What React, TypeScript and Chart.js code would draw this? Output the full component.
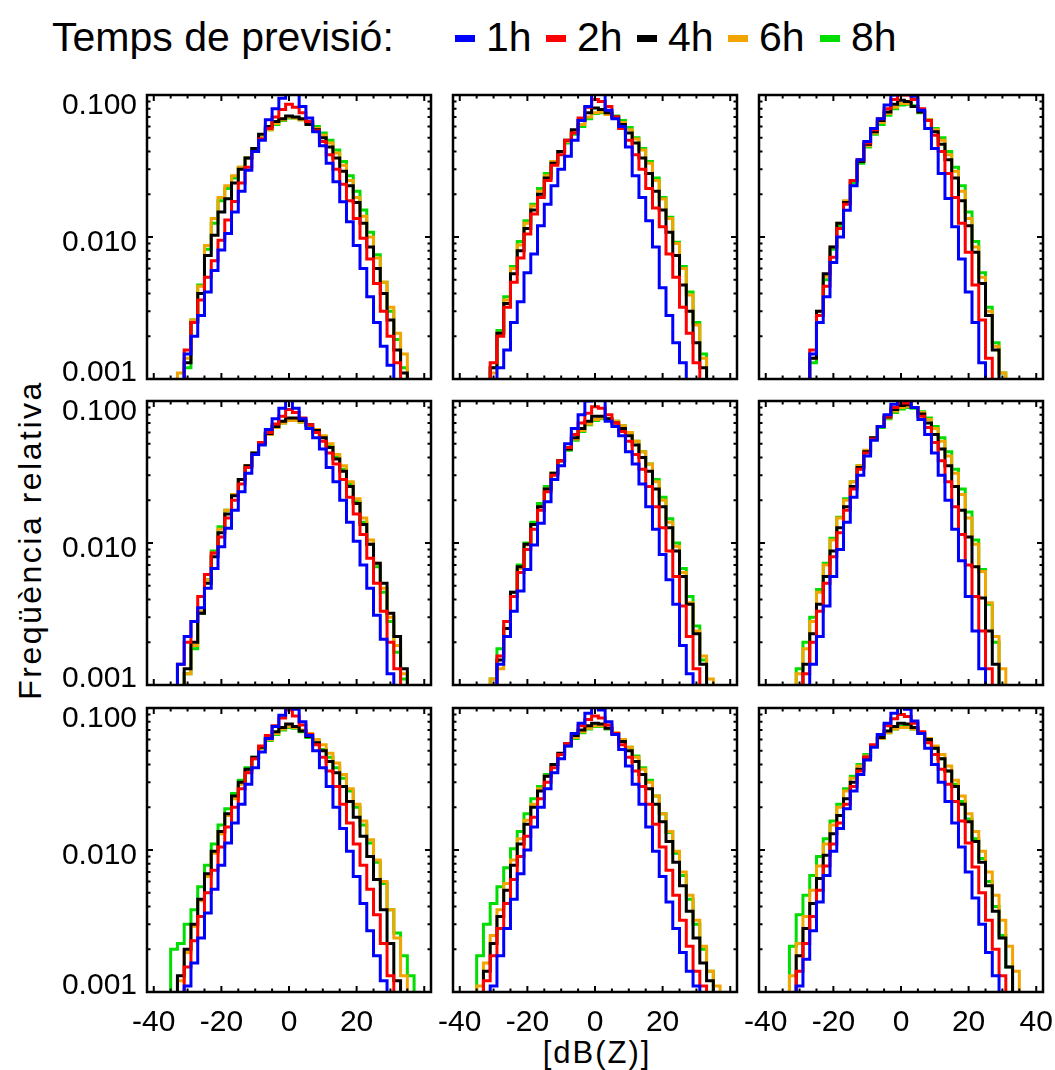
import React, { useEffect, useRef } from 'react';
import { Chart, registerables } from 'chart.js';

Chart.register(...registerables);

// ---------- axes ----------
const BIN_STEP = 2; // histogram bin width in dB(Z)
const X_MIN = -42;
const X_MAX = 42;
const Y_MIN = 0.001;
const Y_MAX = 0.1;
const EMPTY_BIN = 0.0001; // empty bin: below the axis floor
const X_TICKS = [-40, -35, -30, -25, -20, -15, -10, -5, 0, 5, 10, 15, 20, 25, 30, 35, 40];
const X_MAJOR_TICKS = [-40, -20, 0, 20, 40];
const Y_TICKS = [0.002, 0.003, 0.004, 0.005, 0.006, 0.007, 0.008, 0.009, 0.01, 0.02, 0.03, 0.04, 0.05, 0.06, 0.07, 0.08, 0.09];
const Y_MAJOR_TICKS = [0.01];
const Y_LABEL_VALUES = [0.1, 0.01, 0.001];
const Y_LABELS = ['0.100', '0.010', '0.001'];
const X_LABEL_VALUES = [-40, -20, 0, 20, 40];
const X_LABELS = ['-40', '-20', '0', '20', '40'];

// ---------- series ----------
const SERIES_NAMES = ['1h', '2h', '4h', '6h', '8h'];
const SERIES_COLORS = ['#0000ff', '#ff0000', '#000000', '#f2a500', '#00dd00'];

// Each panel: first bin centre of every series (1h,2h,4h,6h,8h) and the relative frequencies per 2 dB bin
const P1_START = [-30, -30, -30, -32, -30];
const P1_1H = [0.0015, 0.002, 0.0028, 0.0041, 0.0058, 0.0081, 0.0106, 0.015, 0.021, 0.0295, 0.04, 0.048, 0.067, 0.08, 0.095, 0.11, 0.105, 0.083, 0.069, 0.055, 0.044, 0.033, 0.0245, 0.0177, 0.0128, 0.0087, 0.006, 0.0038, 0.0025, 0.0017, 0.00125];
const P1_2H = [0.0016, 0.0025, 0.0036, 0.0052, 0.0068, 0.0095, 0.0132, 0.0178, 0.024, 0.031, 0.04, 0.049, 0.058, 0.07, 0.079, 0.086, 0.082, 0.075, 0.065, 0.056, 0.047, 0.038, 0.03, 0.0235, 0.018, 0.0135, 0.0098, 0.007, 0.0047, 0.003, 0.002, 0.0013];
const P1_4H = [0.0013, 0.0025, 0.004, 0.0074, 0.0103, 0.015, 0.0186, 0.024, 0.03, 0.036, 0.042, 0.053, 0.06, 0.065, 0.068, 0.071, 0.07, 0.068, 0.062, 0.057, 0.05, 0.043, 0.036, 0.029, 0.023, 0.0175, 0.0125, 0.0085, 0.006, 0.004, 0.0026, 0.0016, 0.0011];
const P1_6H = [0.0011, 0.0014, 0.0026, 0.0045, 0.0087, 0.0135, 0.019, 0.023, 0.027, 0.031, 0.036, 0.041, 0.05, 0.057, 0.063, 0.067, 0.07, 0.069, 0.067, 0.064, 0.058, 0.052, 0.046, 0.039, 0.032, 0.025, 0.019, 0.014, 0.01, 0.0071, 0.0048, 0.0032, 0.0021, 0.0015];
const P1_8H = [0.0012, 0.0026, 0.0046, 0.0082, 0.0125, 0.018, 0.022, 0.026, 0.031, 0.036, 0.042, 0.05, 0.057, 0.062, 0.066, 0.069, 0.069, 0.067, 0.065, 0.06, 0.054, 0.048, 0.041, 0.034, 0.027, 0.021, 0.0155, 0.0108, 0.0075, 0.0048, 0.003, 0.0019, 0.0012];

const P2_START = [-28, -30, -30, -30, -30];
const P2_1H = [0.0012, 0.0016, 0.0025, 0.0035, 0.0056, 0.0076, 0.012, 0.017, 0.023, 0.03, 0.037, 0.048, 0.066, 0.083, 0.11, 0.105, 0.078, 0.068, 0.06, 0.043, 0.027, 0.019, 0.013, 0.0085, 0.0044, 0.0028, 0.0018, 0.0013];
const P2_2H = [0.0013, 0.002, 0.0032, 0.0048, 0.0071, 0.0105, 0.0145, 0.019, 0.025, 0.032, 0.038, 0.048, 0.054, 0.069, 0.082, 0.093, 0.09, 0.083, 0.07, 0.058, 0.048, 0.038, 0.03, 0.022, 0.016, 0.0118, 0.0076, 0.0052, 0.0032, 0.0021, 0.0013];
const P2_4H = [0.0012, 0.0021, 0.0034, 0.0055, 0.008, 0.0115, 0.0155, 0.02, 0.026, 0.033, 0.04, 0.048, 0.057, 0.066, 0.075, 0.081, 0.079, 0.075, 0.07, 0.062, 0.054, 0.046, 0.036, 0.028, 0.021, 0.0155, 0.0108, 0.0074, 0.0046, 0.003, 0.0018, 0.0012];
const P2_6H = [0.0011, 0.0021, 0.0036, 0.006, 0.0088, 0.0125, 0.0165, 0.021, 0.027, 0.034, 0.04, 0.047, 0.055, 0.062, 0.07, 0.075, 0.076, 0.073, 0.07, 0.064, 0.057, 0.049, 0.041, 0.033, 0.025, 0.0185, 0.0135, 0.009, 0.006, 0.0039, 0.0024, 0.0014];
const P2_8H = [0.0012, 0.0022, 0.0038, 0.0062, 0.0093, 0.013, 0.017, 0.022, 0.028, 0.034, 0.04, 0.046, 0.053, 0.06, 0.068, 0.074, 0.075, 0.074, 0.071, 0.066, 0.059, 0.05, 0.042, 0.034, 0.026, 0.019, 0.0138, 0.0092, 0.0062, 0.0041, 0.0025, 0.0015];

const P3_START = [-26, -26, -26, -26, -26];
const P3_1H = [0.0015, 0.0025, 0.0038, 0.0066, 0.01, 0.0154, 0.023, 0.035, 0.047, 0.058, 0.068, 0.085, 0.1, 0.108, 0.107, 0.098, 0.078, 0.058, 0.042, 0.028, 0.0187, 0.0118, 0.007, 0.0041, 0.0025, 0.0013];
const P3_2H = [0.0016, 0.0028, 0.0045, 0.0072, 0.0115, 0.017, 0.025, 0.035, 0.046, 0.057, 0.068, 0.08, 0.093, 0.1, 0.1, 0.093, 0.08, 0.066, 0.052, 0.04, 0.028, 0.019, 0.0125, 0.0078, 0.0046, 0.0026, 0.0014];
const P3_4H = [0.0014, 0.003, 0.0055, 0.0085, 0.0125, 0.0175, 0.025, 0.034, 0.045, 0.055, 0.066, 0.076, 0.086, 0.092, 0.09, 0.083, 0.076, 0.066, 0.055, 0.045, 0.035, 0.026, 0.018, 0.012, 0.0078, 0.0047, 0.0028, 0.0016];
const P3_6H = [0.0014, 0.003, 0.0053, 0.0085, 0.0125, 0.018, 0.025, 0.034, 0.044, 0.054, 0.064, 0.074, 0.082, 0.087, 0.087, 0.083, 0.076, 0.067, 0.057, 0.048, 0.038, 0.029, 0.021, 0.0135, 0.0085, 0.0052, 0.003, 0.0017, 0.0011];
const P3_8H = [0.0013, 0.0028, 0.005, 0.0082, 0.012, 0.0175, 0.024, 0.033, 0.043, 0.053, 0.062, 0.072, 0.08, 0.085, 0.086, 0.084, 0.075, 0.067, 0.058, 0.05, 0.04, 0.031, 0.023, 0.015, 0.0093, 0.0056, 0.0032, 0.0018, 0.0011];

const P4_START = [-32, -32, -30, -30, -30];
const P4_1H = [0.0014, 0.0022, 0.0028, 0.0035, 0.0048, 0.0066, 0.0094, 0.0127, 0.017, 0.023, 0.031, 0.042, 0.049, 0.063, 0.075, 0.089, 0.105, 0.089, 0.075, 0.064, 0.055, 0.046, 0.034, 0.027, 0.02, 0.014, 0.0103, 0.007, 0.0048, 0.0031, 0.0021, 0.0012];
const P4_2H = [0.0014, 0.002, 0.0028, 0.0042, 0.006, 0.0085, 0.011, 0.015, 0.02, 0.026, 0.034, 0.042, 0.051, 0.06, 0.069, 0.078, 0.087, 0.083, 0.076, 0.068, 0.06, 0.052, 0.043, 0.036, 0.028, 0.021, 0.016, 0.0115, 0.0078, 0.0052, 0.0033, 0.002, 0.0013];
const P4_4H = [0.0013, 0.002, 0.0032, 0.0052, 0.008, 0.0118, 0.016, 0.0215, 0.028, 0.035, 0.043, 0.051, 0.059, 0.066, 0.072, 0.076, 0.076, 0.073, 0.068, 0.062, 0.055, 0.047, 0.039, 0.032, 0.025, 0.019, 0.0135, 0.0098, 0.0072, 0.0052, 0.0032, 0.0022, 0.0013];
const P4_6H = [0.0012, 0.0019, 0.0033, 0.0055, 0.0085, 0.0125, 0.017, 0.022, 0.028, 0.035, 0.043, 0.05, 0.058, 0.065, 0.07, 0.073, 0.073, 0.071, 0.068, 0.063, 0.057, 0.05, 0.042, 0.035, 0.027, 0.0205, 0.015, 0.0105, 0.0072, 0.0048, 0.003, 0.0019, 0.0012];
const P4_8H = [0.0012, 0.0018, 0.0032, 0.0055, 0.0088, 0.013, 0.017, 0.022, 0.028, 0.035, 0.042, 0.05, 0.058, 0.065, 0.07, 0.074, 0.074, 0.071, 0.067, 0.062, 0.056, 0.048, 0.04, 0.033, 0.026, 0.0195, 0.014, 0.0098, 0.0068, 0.0045, 0.0028, 0.0017, 0.0011];

const P5_START = [-28, -28, -28, -30, -30];
const P5_1H = [0.0014, 0.0022, 0.0033, 0.0046, 0.0065, 0.0097, 0.0138, 0.0195, 0.028, 0.035, 0.05, 0.064, 0.08, 0.1, 0.11, 0.105, 0.072, 0.066, 0.057, 0.044, 0.036, 0.026, 0.018, 0.0125, 0.0083, 0.0055, 0.0037, 0.0019, 0.0012];
const P5_2H = [0.0016, 0.0028, 0.0042, 0.0062, 0.009, 0.0125, 0.017, 0.023, 0.03, 0.038, 0.047, 0.058, 0.07, 0.082, 0.091, 0.089, 0.08, 0.07, 0.061, 0.052, 0.042, 0.033, 0.025, 0.018, 0.0128, 0.0088, 0.0058, 0.0036, 0.0022, 0.0013];
const P5_4H = [0.0015, 0.0025, 0.0045, 0.0068, 0.0098, 0.0135, 0.018, 0.024, 0.031, 0.038, 0.046, 0.055, 0.064, 0.072, 0.078, 0.078, 0.075, 0.07, 0.064, 0.057, 0.049, 0.04, 0.032, 0.024, 0.018, 0.0128, 0.0088, 0.0058, 0.0037, 0.0023, 0.0014];
const P5_6H = [0.0011, 0.0013, 0.0025, 0.0042, 0.0066, 0.0097, 0.0135, 0.018, 0.024, 0.031, 0.038, 0.046, 0.054, 0.062, 0.069, 0.074, 0.076, 0.075, 0.072, 0.067, 0.06, 0.052, 0.044, 0.036, 0.027, 0.02, 0.014, 0.0095, 0.0062, 0.0038, 0.0024, 0.0016, 0.0011];
const P5_8H = [0.0011, 0.0018, 0.0028, 0.0045, 0.007, 0.01, 0.014, 0.019, 0.025, 0.031, 0.038, 0.045, 0.053, 0.061, 0.068, 0.073, 0.075, 0.075, 0.072, 0.067, 0.06, 0.052, 0.044, 0.036, 0.028, 0.021, 0.0148, 0.01, 0.0066, 0.0042, 0.0026, 0.0015];

const P6_START = [-26, -28, -28, -30, -30];
const P6_1H = [0.0014, 0.0022, 0.0036, 0.0058, 0.009, 0.014, 0.021, 0.03, 0.041, 0.053, 0.066, 0.08, 0.095, 0.105, 0.104, 0.09, 0.074, 0.058, 0.043, 0.03, 0.02, 0.0125, 0.0075, 0.0042, 0.0024, 0.0013];
const P6_2H = [0.0012, 0.002, 0.0033, 0.0052, 0.008, 0.0118, 0.017, 0.024, 0.033, 0.043, 0.054, 0.066, 0.078, 0.09, 0.097, 0.097, 0.09, 0.078, 0.065, 0.051, 0.038, 0.027, 0.018, 0.0115, 0.007, 0.0042, 0.0024, 0.0013];
const P6_4H = [0.0014, 0.0023, 0.0037, 0.0058, 0.0088, 0.0128, 0.018, 0.025, 0.034, 0.044, 0.055, 0.066, 0.077, 0.087, 0.093, 0.094, 0.09, 0.081, 0.07, 0.058, 0.046, 0.035, 0.025, 0.017, 0.011, 0.0068, 0.0041, 0.0024, 0.0014];
const P6_6H = [0.0012, 0.0018, 0.0028, 0.0045, 0.007, 0.0105, 0.015, 0.02, 0.027, 0.035, 0.045, 0.055, 0.066, 0.076, 0.085, 0.09, 0.092, 0.09, 0.083, 0.074, 0.064, 0.052, 0.041, 0.031, 0.022, 0.015, 0.0098, 0.0063, 0.0038, 0.0022, 0.0013];
const P6_8H = [0.0013, 0.002, 0.003, 0.0047, 0.0072, 0.0108, 0.0152, 0.0205, 0.027, 0.035, 0.044, 0.054, 0.065, 0.075, 0.083, 0.088, 0.09, 0.089, 0.084, 0.076, 0.066, 0.055, 0.044, 0.033, 0.024, 0.0165, 0.0105, 0.0065, 0.0037, 0.002];

const P7_START = [-30, -30, -32, -32, -34];
const P7_1H = [0.0011, 0.0016, 0.0024, 0.0036, 0.0053, 0.0078, 0.0112, 0.0155, 0.021, 0.029, 0.038, 0.049, 0.061, 0.074, 0.089, 0.108, 0.098, 0.08, 0.064, 0.05, 0.038, 0.028, 0.02, 0.0142, 0.0098, 0.0065, 0.0042, 0.0027, 0.0018, 0.0012];
const P7_2H = [0.0015, 0.0023, 0.0034, 0.005, 0.0072, 0.0105, 0.0145, 0.02, 0.027, 0.035, 0.044, 0.054, 0.064, 0.075, 0.085, 0.097, 0.088, 0.076, 0.065, 0.055, 0.045, 0.036, 0.028, 0.021, 0.0155, 0.011, 0.0078, 0.0053, 0.0035, 0.0022, 0.0013];
const P7_4H = [0.0013, 0.002, 0.003, 0.0045, 0.0068, 0.0098, 0.0135, 0.018, 0.024, 0.03, 0.037, 0.045, 0.053, 0.061, 0.068, 0.073, 0.077, 0.074, 0.069, 0.063, 0.057, 0.05, 0.042, 0.035, 0.028, 0.022, 0.017, 0.0125, 0.009, 0.0062, 0.0038, 0.0022, 0.0012];
const P7_6H = [0.0012, 0.0019, 0.0029, 0.0044, 0.0065, 0.0095, 0.013, 0.0175, 0.023, 0.029, 0.036, 0.044, 0.052, 0.06, 0.066, 0.071, 0.074, 0.073, 0.07, 0.066, 0.06, 0.055, 0.048, 0.041, 0.034, 0.027, 0.021, 0.016, 0.0118, 0.0085, 0.006, 0.0038, 0.0024, 0.0013];
const P7_8H = [0.002, 0.0022, 0.003, 0.0038, 0.0055, 0.0078, 0.011, 0.015, 0.0195, 0.025, 0.031, 0.038, 0.045, 0.052, 0.059, 0.065, 0.07, 0.073, 0.072, 0.068, 0.062, 0.057, 0.051, 0.045, 0.038, 0.032, 0.026, 0.02, 0.015, 0.0112, 0.0082, 0.0058, 0.0038, 0.0026, 0.0018, 0.0013];

const P8_START = [-30, -32, -32, -34, -34];
const P8_1H = [0.0011, 0.0018, 0.0028, 0.0045, 0.0068, 0.01, 0.0145, 0.02, 0.027, 0.035, 0.044, 0.054, 0.066, 0.078, 0.092, 0.105, 0.097, 0.08, 0.065, 0.051, 0.039, 0.029, 0.021, 0.0145, 0.0098, 0.0065, 0.0043, 0.0028, 0.0019, 0.0014, 0.0011];
const P8_2H = [0.0012, 0.0018, 0.0028, 0.0042, 0.0062, 0.009, 0.0125, 0.017, 0.023, 0.03, 0.038, 0.047, 0.056, 0.066, 0.075, 0.083, 0.088, 0.085, 0.076, 0.066, 0.055, 0.045, 0.036, 0.028, 0.021, 0.0152, 0.0105, 0.0072, 0.0048, 0.0032, 0.0021, 0.0014, 0.0011];
const P8_4H = [0.0014, 0.0022, 0.0034, 0.0052, 0.0078, 0.011, 0.0152, 0.02, 0.026, 0.033, 0.04, 0.048, 0.056, 0.064, 0.07, 0.075, 0.078, 0.077, 0.072, 0.066, 0.058, 0.05, 0.042, 0.034, 0.027, 0.021, 0.0158, 0.0115, 0.0082, 0.0056, 0.0037, 0.0024, 0.0016, 0.0012];
const P8_6H = [0.0011, 0.0016, 0.0025, 0.0038, 0.0058, 0.0085, 0.012, 0.0162, 0.021, 0.027, 0.033, 0.04, 0.047, 0.055, 0.062, 0.068, 0.072, 0.075, 0.075, 0.072, 0.067, 0.06, 0.053, 0.045, 0.037, 0.03, 0.024, 0.018, 0.0135, 0.0098, 0.007, 0.0048, 0.0032, 0.0021, 0.0014, 0.0011];
const P8_8H = [0.0018, 0.003, 0.0042, 0.0055, 0.0075, 0.0102, 0.0135, 0.018, 0.023, 0.028, 0.034, 0.04, 0.047, 0.054, 0.061, 0.067, 0.071, 0.074, 0.074, 0.071, 0.066, 0.06, 0.053, 0.046, 0.038, 0.031, 0.024, 0.018, 0.0133, 0.0095, 0.0066, 0.0045, 0.003, 0.002, 0.0014];

const P9_START = [-30, -30, -30, -32, -32];
const P9_1H = [0.0011, 0.0017, 0.0027, 0.0043, 0.0066, 0.0098, 0.0142, 0.0195, 0.026, 0.034, 0.043, 0.053, 0.065, 0.078, 0.092, 0.106, 0.098, 0.081, 0.066, 0.052, 0.04, 0.03, 0.022, 0.0155, 0.0105, 0.007, 0.0046, 0.003, 0.0019, 0.0013];
const P9_2H = [0.0014, 0.0022, 0.0034, 0.0052, 0.0077, 0.011, 0.0155, 0.021, 0.028, 0.036, 0.045, 0.055, 0.065, 0.075, 0.084, 0.09, 0.087, 0.078, 0.068, 0.057, 0.047, 0.037, 0.029, 0.022, 0.016, 0.0112, 0.0076, 0.005, 0.0032, 0.002, 0.0013];
const P9_4H = [0.0018, 0.0028, 0.0042, 0.0063, 0.0092, 0.013, 0.0175, 0.023, 0.03, 0.037, 0.045, 0.054, 0.062, 0.069, 0.074, 0.078, 0.077, 0.073, 0.067, 0.06, 0.052, 0.044, 0.036, 0.028, 0.021, 0.0158, 0.0115, 0.0082, 0.0056, 0.0037, 0.0024, 0.0015];
const P9_6H = [0.0013, 0.0022, 0.0034, 0.0052, 0.0077, 0.011, 0.015, 0.02, 0.026, 0.032, 0.039, 0.046, 0.054, 0.061, 0.067, 0.071, 0.073, 0.073, 0.071, 0.067, 0.061, 0.054, 0.047, 0.039, 0.031, 0.024, 0.018, 0.0135, 0.0098, 0.007, 0.0048, 0.0032, 0.0021, 0.0014];
const P9_8H = [0.0021, 0.0035, 0.0048, 0.0066, 0.009, 0.012, 0.016, 0.021, 0.027, 0.033, 0.04, 0.047, 0.054, 0.061, 0.067, 0.071, 0.074, 0.074, 0.071, 0.066, 0.059, 0.052, 0.044, 0.036, 0.029, 0.022, 0.0165, 0.012, 0.0087, 0.006, 0.004, 0.0025, 0.0015];

const PANEL_STARTS = [P1_START, P2_START, P3_START, P4_START, P5_START, P6_START, P7_START, P8_START, P9_START];
const PANEL_SERIES = [
  [P1_1H, P1_2H, P1_4H, P1_6H, P1_8H],
  [P2_1H, P2_2H, P2_4H, P2_6H, P2_8H],
  [P3_1H, P3_2H, P3_4H, P3_6H, P3_8H],
  [P4_1H, P4_2H, P4_4H, P4_6H, P4_8H],
  [P5_1H, P5_2H, P5_4H, P5_6H, P5_8H],
  [P6_1H, P6_2H, P6_4H, P6_6H, P6_8H],
  [P7_1H, P7_2H, P7_4H, P7_6H, P7_8H],
  [P8_1H, P8_2H, P8_4H, P8_6H, P8_8H],
  [P9_1H, P9_2H, P9_4H, P9_6H, P9_8H],
];

// ---------- layout ----------
const COL_X = [147, 453, 759];
const ROW_Y = [95, 401, 708];
const FRAME = 284;
const LEGEND_X = [455, 546, 637, 728, 820];
const FONT = '"Liberation Sans", Arial, Helvetica, sans-serif';

function histogramPoints(start: number, values: number[]) {
  const pts: { x: number; y: number }[] = [{ x: start - BIN_STEP, y: EMPTY_BIN }];
  values.forEach((v, i) => pts.push({ x: start + BIN_STEP * i, y: v }));
  pts.push({ x: start + BIN_STEP * values.length, y: EMPTY_BIN });
  return pts;
}

function Panel({ index }: { index: number }) {
  const ref = useRef<HTMLCanvasElement | null>(null);
  const col = index % 3;
  const row = Math.floor(index / 3);
  const padL = col === 0 ? 120 : row === 2 ? 34 : 6;
  const padR = row === 2 && col === 2 ? 12 : 6;
  const padT = 6;
  const padB = row === 2 ? 52 : 6;
  const width = FRAME + padL + padR;
  const height = FRAME + padT + padB;

  useEffect(() => {
    if (!ref.current) return;
    const framePlugin = {
      id: 'frame' + index,
      afterDatasetsDraw(chart: any) {
        const { ctx, chartArea } = chart;
        const { left, right, top, bottom } = chartArea;
        const xs = chart.scales.x;
        const ys = chart.scales.y;
        ctx.save();
        ctx.strokeStyle = '#000';
        ctx.lineWidth = 2;
        ctx.beginPath();
        X_TICKS.forEach((v) => {
          const px = xs.getPixelForValue(v);
          const len = X_MAJOR_TICKS.includes(v) ? 6 : 3.5;
          ctx.moveTo(px, bottom);
          ctx.lineTo(px, bottom - len);
          ctx.moveTo(px, top);
          ctx.lineTo(px, top + len);
        });
        Y_TICKS.forEach((v) => {
          const py = ys.getPixelForValue(v);
          const len = Y_MAJOR_TICKS.includes(v) ? 6 : 3.5;
          ctx.moveTo(left, py);
          ctx.lineTo(left + len, py);
          ctx.moveTo(right, py);
          ctx.lineTo(right - len, py);
        });
        ctx.stroke();
        ctx.lineWidth = 2.5;
        ctx.strokeRect(left, top, right - left, bottom - top);

        ctx.fillStyle = '#000';
        ctx.font = '30px ' + FONT;
        ctx.textBaseline = 'alphabetic';
        if (col === 0) {
          ctx.textAlign = 'right';
          const shifts = [18.5, 13.5, 1.5];
          Y_LABEL_VALUES.forEach((v, i) => {
            ctx.fillText(Y_LABELS[i], left - 10, ys.getPixelForValue(v) + shifts[i]);
          });
        }
        if (row === 2) {
          ctx.textAlign = 'center';
          X_LABEL_VALUES.forEach((v, i) => {
            if (v === 40 && col !== 2) return;
            ctx.fillText(X_LABELS[i], xs.getPixelForValue(v), bottom + 38.5);
          });
        }
        ctx.restore();
      },
    };

    const starts = PANEL_STARTS[index];
    const series = PANEL_SERIES[index];
    const chart = new Chart(ref.current, {
      type: 'line',
      data: {
        datasets: SERIES_NAMES.map((name, i) => ({
          label: name,
          data: histogramPoints(starts[i], series[i]),
          borderColor: SERIES_COLORS[i],
          backgroundColor: SERIES_COLORS[i],
          borderWidth: 3,
          stepped: 'middle' as const,
          pointRadius: 0,
          fill: false,
          clip: 0,
          borderJoinStyle: 'miter' as const,
        })),
      },
      options: {
        animation: false,
        responsive: false,
        maintainAspectRatio: false,
        events: [],
        layout: { padding: { left: padL, right: padR, top: padT, bottom: padB } },
        scales: {
          x: { type: 'linear', min: X_MIN, max: X_MAX, display: false },
          y: { type: 'logarithmic', min: Y_MIN, max: Y_MAX, display: false },
        },
        plugins: { legend: { display: false }, tooltip: { enabled: false } },
      },
      plugins: [framePlugin],
    } as any);
    return () => chart.destroy();
  }, [index]);

  return (
    <canvas
      ref={ref}
      width={width}
      height={height}
      style={{
        position: 'absolute',
        left: COL_X[col] - padL,
        top: ROW_Y[row] - padT,
        width,
        height,
      }}
    />
  );
}

export default function App() {
  return (
    <div
      style={{
        position: 'absolute',
        left: 0,
        top: 0,
        width: 1055,
        height: 1070,
        background: '#fff',
        fontFamily: FONT,
        color: '#000',
        overflow: 'hidden',
      }}
    >
      <div style={{ position: 'absolute', left: 52, top: 17, fontSize: 41, lineHeight: '41px', whiteSpace: 'nowrap' }}>
        Temps de previsió:
      </div>
      {SERIES_NAMES.map((n, i) => (
        <React.Fragment key={n}>
          <div
            style={{
              position: 'absolute',
              left: LEGEND_X[i],
              top: 35,
              width: 20,
              height: 7,
              background: SERIES_COLORS[i],
            }}
          />
          <div
            style={{
              position: 'absolute',
              left: LEGEND_X[i] + 31,
              top: 17,
              fontSize: 41,
              lineHeight: '41px',
              whiteSpace: 'nowrap',
            }}
          >
            {n}
          </div>
        </React.Fragment>
      ))}
      <div
        style={{
          position: 'absolute',
          left: 30,
          top: 540,
          fontSize: 32,
          lineHeight: '32px',
          letterSpacing: '2.5px',
          whiteSpace: 'nowrap',
          transform: 'translate(-50%, -50%) rotate(-90deg)',
        }}
      >
        Freqüència relativa
      </div>
      <div
        style={{
          position: 'absolute',
          left: 597,
          top: 1052,
          fontSize: 31,
          lineHeight: '31px',
          letterSpacing: '2px',
          whiteSpace: 'nowrap',
          transform: 'translate(-50%, -50%)',
        }}
      >
        [dB(Z)]
      </div>
      {PANEL_SERIES.map((_, i) => (
        <Panel key={i} index={i} />
      ))}
    </div>
  );
}
